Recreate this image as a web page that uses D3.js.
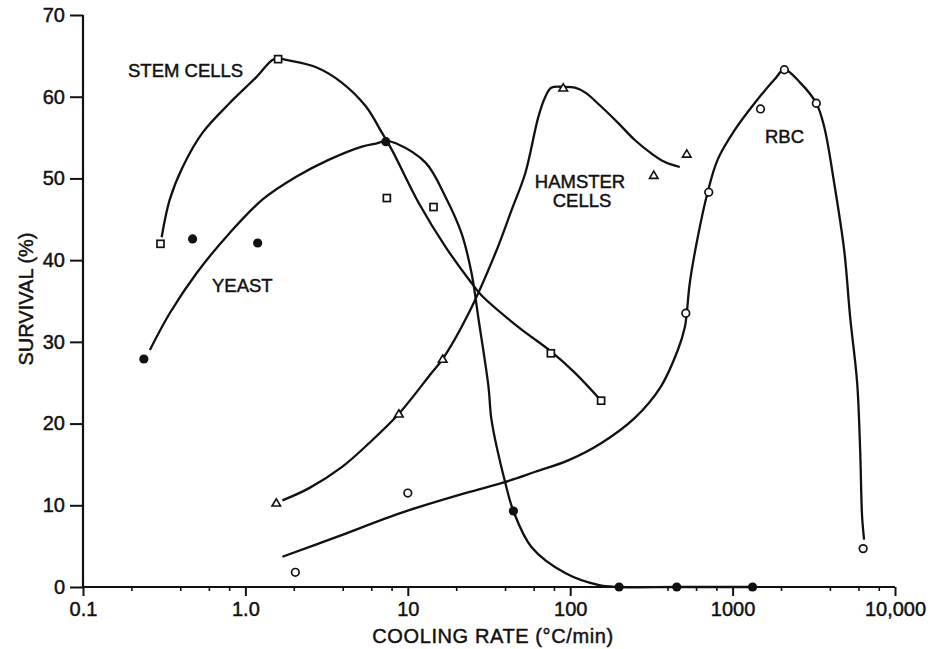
<!DOCTYPE html>
<html>
<head>
<meta charset="utf-8">
<script src="https://cdn.jsdelivr.net/npm/d3@7"></script>
<style>
  body { margin: 0; background: #fff; }
  text { font-family: "Liberation Sans", Arial, sans-serif; fill: #111; stroke: #111; stroke-width: 0.45px; }
</style>
</head>
<body>
<div id="chart"></div>
<script>
'use strict';

// tick labels
var xTickValues = [0.1, 1, 10, 100, 1000, 10000];
var xTickLabels = ['0.1', '1.0', '10', '100', '1000', '10,000'];
var yTickValues = [0, 10, 20, 30, 40, 50, 60, 70];

// measured points (cooling rate, survival %)
var stemX = [0.30, 1.59, 7.43, 14.4, 76, 155];
var stemY = [42.0, 64.6, 47.6, 46.5, 28.6, 22.8];

var yeastX = [0.237, 0.473, 1.19, 7.33, 44.7, 200, 453, 1327];
var yeastY = [27.9, 42.6, 42.1, 54.5, 9.3, 0, 0, 0];

var hamsterX = [1.55, 8.81, 16.4, 90.6, 327, 522];
var hamsterY = [10.3, 21.2, 27.9, 61.1, 50.4, 53.0];

var rbcX = [2.03, 10.0, 515, 713, 1486, 2084, 3276, 6366];
var rbcY = [1.8, 11.5, 33.5, 48.3, 58.5, 63.3, 59.2, 4.7];

// hand drawn curves
var stemCurveX = [0.305, 0.342, 0.411, 0.545, 0.798, 1.168, 1.464, 1.59, 1.784, 2.727, 3.937, 5.526, 6.927, 7.98, 11.68, 17.11, 24.7, 28.4, 48.0, 76.4, 107, 155];
var stemCurveY = [42.8, 47.4, 51.4, 55.6, 59.2, 62.4, 64.5, 64.7, 64.5, 63.6, 61.7, 58.8, 55.6, 53.5, 47.0, 41.6, 37.2, 35.7, 31.8, 28.8, 26.2, 22.8];

var yeastCurveX = [0.258, 0.342, 0.50, 0.798, 1.272, 2.055, 3.276, 5.22, 6.45, 7.33, 8.44, 12.9, 17.1, 21.4, 24.7, 27.3, 31.4, 32.8, 39.9, 44.7, 57.7, 93.2, 148.5, 200, 453, 1327];
var yeastCurveY = [29.0, 33.5, 38.4, 43.3, 47.4, 50.2, 52.3, 53.9, 54.3, 54.6, 54.3, 51.9, 47.7, 43.3, 38.4, 32.7, 24.5, 20.4, 12.7, 9.3, 4.9, 1.7, 0.25, 0, 0, 0];

var hamsterCurveX = [1.69, 2.47, 3.94, 5.77, 8.81, 14.0, 16.4, 23.7, 34.7, 43.5, 53.0, 63.6, 70.3, 76.4, 91.8, 107, 124, 155, 197, 250, 314, 383, 473];
var hamsterCurveY = [10.6, 12.1, 14.7, 17.6, 21.2, 26.2, 27.9, 33.5, 40.9, 46.1, 50.7, 57.5, 60.0, 61.1, 61.2, 61.1, 60.5, 58.8, 56.8, 54.7, 53.1, 52.0, 51.4];

var rbcCurveX = [1.69, 3.62, 9.19, 23.7, 37.7, 61.0, 97.2, 155, 250, 361, 460, 508, 522, 545, 610, 702, 809, 1029, 1365, 1810, 2084, 2614, 3276, 3667, 4225, 4866, 5297, 5847, 6100, 6273, 6453];
var rbcCurveY = [3.7, 6.1, 9.1, 11.6, 12.7, 14.1, 15.5, 17.6, 20.7, 24.5, 29.0, 31.8, 33.5, 37.2, 42.8, 48.3, 52.3, 55.9, 59.2, 62.1, 63.3, 61.7, 59.2, 56.3, 49.4, 41.2, 33.0, 25.0, 16.8, 8.6, 5.8];

var width = 938;
var height = 649;

var svg = d3.select('#chart').append('svg')
  .attr('width', width)
  .attr('height', height);

var xScale = d3.scaleLog()
  .domain([0.1, 10000])
  .range([83, 895]);

var yScale = d3.scaleLinear()
  .domain([0, 70])
  .range([587, 15]);

function pairs(xs, ys){
  return xs.map(function(x, i){ return [x, ys[i]]; });
}

var line = d3.line()
  .x(function(d){ return xScale(d[0]); })
  .y(function(d){ return yScale(d[1]); })
  .curve(d3.curveCatmullRom.alpha(0.5));

// axes
var xAxis = d3.axisBottom(xScale)
  .tickValues(xTickValues)
  .tickFormat(function(d, i){ return xTickLabels[i]; })
  .tickSize(9)
  .tickPadding(6);

var gx = svg.append('g')
  .attr('transform', 'translate(0,' + yScale(0) + ')')
  .call(xAxis);

// minor ticks at 2,4,6,8 of each decade
var minor = [];
[0.1, 1, 10, 100, 1000].forEach(function(dec){
  [2, 4, 6, 8].forEach(function(m){ minor.push(dec * m); });
});
gx.selectAll('.minor')
  .data(minor)
  .enter().append('line')
    .attr('class', 'minor')
    .attr('x1', xScale)
    .attr('x2', xScale)
    .attr('y1', 0)
    .attr('y2', 4)
    .attr('stroke', '#111')
    .attr('stroke-width', 1.6);

var yAxis = d3.axisLeft(yScale)
  .tickValues(yTickValues)
  .tickSize(13)
  .tickPadding(5);

var gy = svg.append('g')
  .attr('transform', 'translate(' + xScale(0.1) + ',0)')
  .call(yAxis);

[gx, gy].forEach(function(g){
  g.select('.domain').attr('stroke', '#111').attr('stroke-width', 2.2);
  g.selectAll('.tick line').attr('stroke', '#111').attr('stroke-width', 2);
  g.selectAll('.tick text')
    .attr('fill', '#111')
    .style('font-family', '"Liberation Sans", Arial, sans-serif')
    .style('font-size', '20px');
});
gx.select('.domain').attr('d', 'M' + xScale(0.1) + ',0H' + xScale(10000));
gy.select('.domain').attr('d', 'M0,' + yScale(0) + 'V' + yScale(70));

// axis titles
svg.append('text')
  .attr('x', 493)
  .attr('y', 643)
  .attr('text-anchor', 'middle')
  .style('font-size', '20px')
  .style('letter-spacing', '0.6px')
  .text('COOLING RATE (°C/min)');

svg.append('text')
  .attr('transform', 'translate(33,299) rotate(-90)')
  .attr('text-anchor', 'middle')
  .style('font-size', '20px')
  .text('SURVIVAL (%)');

// curves
var curves = [
  pairs(stemCurveX, stemCurveY),
  pairs(yeastCurveX, yeastCurveY),
  pairs(hamsterCurveX, hamsterCurveY),
  pairs(rbcCurveX, rbcCurveY)
];
svg.selectAll('.curve')
    .data(curves)
  .enter().append('path')
    .attr('class', 'curve')
    .attr('d', line)
    .attr('fill', 'none')
    .attr('stroke', '#111')
    .attr('stroke-width', 2.3)
    .attr('stroke-linejoin', 'round');

// markers
svg.selectAll('.stem')
    .data(pairs(stemX, stemY))
  .enter().append('rect')
    .attr('class', 'stem')
    .attr('x', function(d){ return xScale(d[0]) - 3.5; })
    .attr('y', function(d){ return yScale(d[1]) - 3.5; })
    .attr('width', 7)
    .attr('height', 7)
    .attr('fill', '#fff')
    .attr('stroke', '#111')
    .attr('stroke-width', 1.7);

svg.selectAll('.yeast')
    .data(pairs(yeastX, yeastY))
  .enter().append('circle')
    .attr('class', 'yeast')
    .attr('cx', function(d){ return xScale(d[0]); })
    .attr('cy', function(d){ return yScale(d[1]); })
    .attr('r', 4.6)
    .attr('fill', '#111');

svg.selectAll('.hamster')
    .data(pairs(hamsterX, hamsterY))
  .enter().append('path')
    .attr('class', 'hamster')
    .attr('transform', function(d){ return 'translate(' + xScale(d[0]) + ',' + yScale(d[1]) + ')'; })
    .attr('d', 'M0,-4L4.3,3.2L-4.3,3.2Z')
    .attr('fill', '#fff')
    .attr('stroke', '#111')
    .attr('stroke-width', 1.6);

svg.selectAll('.rbc')
    .data(pairs(rbcX, rbcY))
  .enter().append('circle')
    .attr('class', 'rbc')
    .attr('cx', function(d){ return xScale(d[0]); })
    .attr('cy', function(d){ return yScale(d[1]); })
    .attr('r', 3.8)
    .attr('fill', '#fff')
    .attr('stroke', '#111')
    .attr('stroke-width', 1.7);

// series labels
var labels = [
  {text: 'STEM CELLS', x: 128, y: 77, anchor: 'start'},
  {text: 'YEAST', x: 212, y: 292, anchor: 'start'},
  {text: 'HAMSTER', x: 580, y: 188, anchor: 'middle'},
  {text: 'CELLS', x: 582, y: 207, anchor: 'middle'},
  {text: 'RBC', x: 765, y: 143, anchor: 'start'}
];
svg.selectAll('.label')
    .data(labels)
  .enter().append('text')
    .attr('class', 'label')
    .attr('x', function(d){ return d.x; })
    .attr('y', function(d){ return d.y; })
    .attr('text-anchor', function(d){ return d.anchor; })
    .style('font-size', '18.5px')
    .text(function(d){ return d.text; });
</script>
</body>
</html>
